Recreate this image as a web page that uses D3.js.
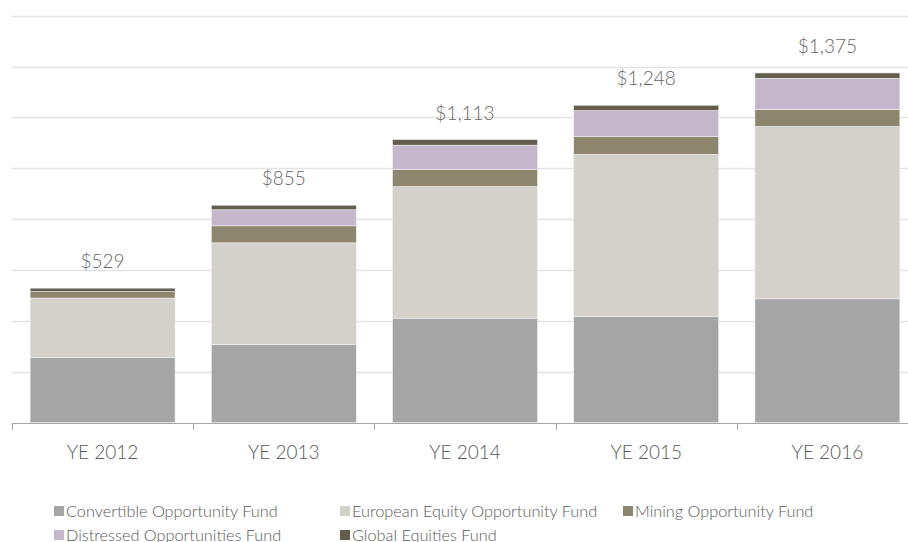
<!DOCTYPE html>
<html>
<head>
<meta charset="utf-8">
<script src="https://cdn.jsdelivr.net/npm/d3@7"></script>
<style>
  body { margin: 0; background: #fff; }
  svg { display: block; font-family: Lato, "Open Sans", sans-serif; }
</style>
</head>
<body>
<div id="chart"></div>
<script>
var width = 908,
    height = 542;

// data ($m)
var years = ["YE 2012", "YE 2013", "YE 2014", "YE 2015", "YE 2016"];
var funds = ["Convertible Opportunity Fund", "European Equity Opportunity Fund", "Mining Opportunity Fund",
             "Distressed Opportunities Fund", "Global Equities Fund"];
var convertible = [257, 308, 411, 418, 487];
var european    = [233, 399, 517, 637, 677];
var mining      = [25, 67, 67, 71, 67];
var distressed  = [0, 63, 96, 101, 123];
var global      = [14, 18, 22, 21, 21];
var totals      = ["$529", "$855", "$1,113", "$1,248", "$1,375"];
var colors = ["#a5a5a5", "#d3d1c9", "#8c866e", "#c5b7cb", "#635d4f"];

var series = [convertible, european, mining, distressed, global];
var rows = years.map(function(y, i) {
  var r = {year: y};
  funds.forEach(function(f, j) { r[f] = series[j][i]; });
  return r;
});

var x = d3.scaleBand()
  .domain(years)
  .range([12, 918])
  .paddingInner(0.2)
  .paddingOuter(0.1);

var y = d3.scaleLinear()
  .domain([0, 1600])
  .range([422.7, 15.7]);

var svg = d3.select("#chart").append("svg")
  .attr("width", width)
  .attr("height", height);

// gridlines
svg.append("g")
  .selectAll("line")
  .data(d3.range(200, 1601, 200))
  .enter().append("line")
  .attr("x1", 12)
  .attr("x2", width)
  .attr("y1", function(d) { return Math.round(y(d)) + 0.5; })
  .attr("y2", function(d) { return Math.round(y(d)) + 0.5; })
  .style("stroke", "#e3e3e3")
  .style("stroke-width", 1.5);

var stack = d3.stack().keys(funds)(rows);

svg.append("g")
  .selectAll("g")
  .data(stack)
  .enter().append("g")
  .style("fill", function(d, i) { return colors[i]; })
  .selectAll("rect")
  .data(function(d) { return d; })
  .enter().append("rect")
  .attr("x", function(d) { return x(d.data.year); })
  .attr("width", x.bandwidth())
  .attr("y", function(d) { return y(d[1]); })
  .attr("height", function(d) { return y(d[0]) - y(d[1]); })
  .style("stroke", "#f2f2f2")
  .style("stroke-width", 0.6);

// total labels
svg.append("g")
  .selectAll("text")
  .data(rows)
  .enter().append("text")
  .attr("x", function(d) { return x(d.year) + x.bandwidth() / 2; })
  .attr("y", function(d, i) {
    var t = d3.sum(series, function(s) { return s[i]; });
    return y(t) - 20;
  })
  .attr("text-anchor", "middle")
  .style("font-size", "19px")
  .style("font-weight", 300)
  .style("fill", "#666")
  .text(function(d, i) { return totals[i]; });

// x axis
var axis = svg.append("g")
  .attr("transform", "translate(0," + 423 + ")")
  .call(d3.axisBottom(x).tickSize(0).tickPadding(0));
axis.select(".domain").remove();
axis.selectAll(".tick").remove();
axis.attr("font-family", null).attr("font-size", null);

axis.append("line")
  .attr("x1", 12).attr("x2", width)
  .attr("y1", 0.5).attr("y2", 0.5)
  .style("stroke", "#a6a6a6");

var step = x.step();
axis.selectAll(".sep")
  .data(years)
  .enter().append("line")
  .attr("class", "sep")
  .attr("x1", function(d) { return Math.round(x(d) - step * 0.1) + 0.5; })
  .attr("x2", function(d) { return Math.round(x(d) - step * 0.1) + 0.5; })
  .attr("y1", 0)
  .attr("y2", 7)
  .style("stroke", "#a6a6a6");

axis.selectAll(".lbl")
  .data(years)
  .enter().append("text")
  .attr("class", "lbl")
  .attr("x", function(d) { return x(d) + x.bandwidth() / 2; })
  .attr("y", 36)
  .attr("text-anchor", "middle")
  .style("font-family", "Lato, sans-serif")
  .style("font-size", "19px")
  .style("font-weight", 300)
  .style("fill", "#595959")
  .text(function(d) { return d; });

// legend
var legendPos = [[54, 511], [340, 511], [623, 511], [54, 535], [340, 535]];
var legend = svg.append("g")
  .selectAll("g")
  .data(funds)
  .enter().append("g")
  .attr("transform", function(d, i) { return "translate(" + legendPos[i][0] + "," + legendPos[i][1] + ")"; });

legend.append("rect")
  .attr("x", 0)
  .attr("y", -5)
  .attr("width", 10)
  .attr("height", 10)
  .style("fill", function(d, i) { return colors[i]; });

legend.append("text")
  .attr("x", 12)
  .attr("y", 5.5)
  .style("font-size", "16.3px")
  .style("font-weight", 300)
  .style("fill", "#595959")
  .text(function(d) { return d; });
</script>
</body>
</html>
